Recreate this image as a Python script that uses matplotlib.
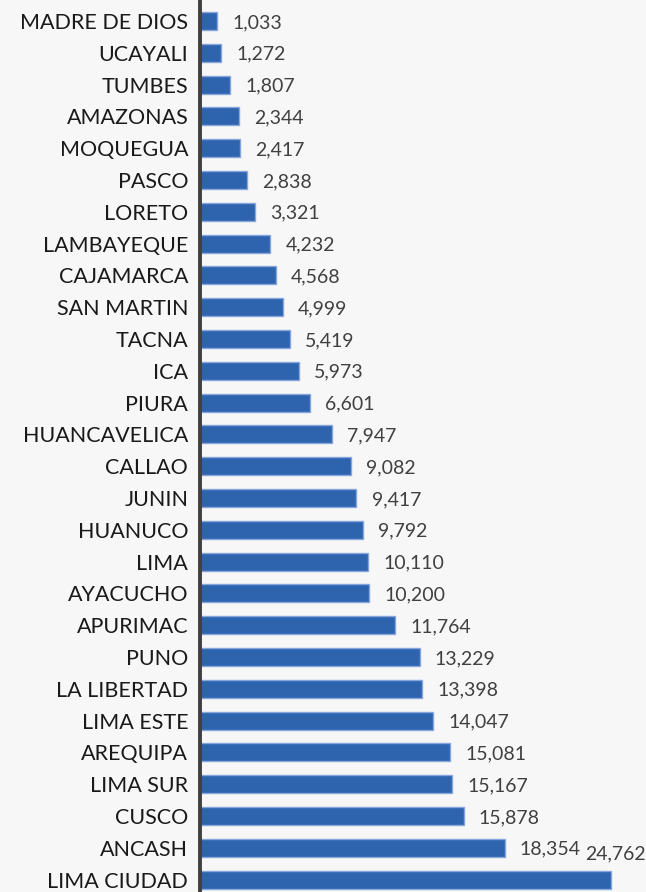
import matplotlib.pyplot as plt
import numpy as np

# Regions, top to bottom as shown in the chart
regions = ["MADRE DE DIOS", "UCAYALI", "TUMBES", "AMAZONAS", "MOQUEGUA", "PASCO",
           "LORETO", "LAMBAYEQUE", "CAJAMARCA", "SAN MARTIN", "TACNA", "ICA", "PIURA",
           "HUANCAVELICA", "CALLAO", "JUNIN", "HUANUCO", "LIMA", "AYACUCHO", "APURIMAC",
           "PUNO", "LA LIBERTAD", "LIMA ESTE", "AREQUIPA", "LIMA SUR", "CUSCO", "ANCASH",
           "LIMA CIUDAD"]
values = [1033, 1272, 1807, 2344, 2417, 2838, 3321, 4232, 4568, 4999, 5419, 5973, 6601,
          7947, 9082, 9417, 9792, 10110, 10200, 11764, 13229, 13398, 14047, 15081, 15167,
          15878, 18354, 24762]

bg = "#f7f7f7"
fig = plt.figure(figsize=(6.46, 8.92), dpi=100, facecolor=bg)
ax = fig.add_axes([200 / 646, 0, 446 / 646, 1], facecolor=bg)

y = np.arange(len(regions))
ax.barh(y, values, height=0.57, color="#2e63ae", edgecolor="#86a6dc", linewidth=1.0)

ax.set_xlim(0, 26870)
ax.set_ylim(27.39, -0.66)

ax.set_yticks(y)
ax.set_yticklabels(regions, fontsize=15.5, color="#1a1a1a", family="Lato")
ax.tick_params(axis="y", length=0, pad=8.5)
ax.set_xticks([])

for s in ["top", "right", "bottom"]:
    ax.spines[s].set_visible(False)
ax.spines["left"].set_color("#404040")
ax.spines["left"].set_linewidth(2.8)

# value labels
for i, v in enumerate(values):
    txt = f"{v:,}"
    if i == len(values) - 1:
        # the biggest label does not fit, it sits above its bar at the right edge
        ax.text(0.999, i - 0.8, txt, transform=ax.get_yaxis_transform(),
                ha="right", va="center", fontsize=14, color="#404040", family="Lato")
    else:
        ax.annotate(txt, (v, i), xytext=(11, -1), textcoords="offset points",
                    ha="left", va="center", fontsize=14, color="#404040", family="Lato")

fig.savefig("out.png", dpi=100, facecolor=bg)
